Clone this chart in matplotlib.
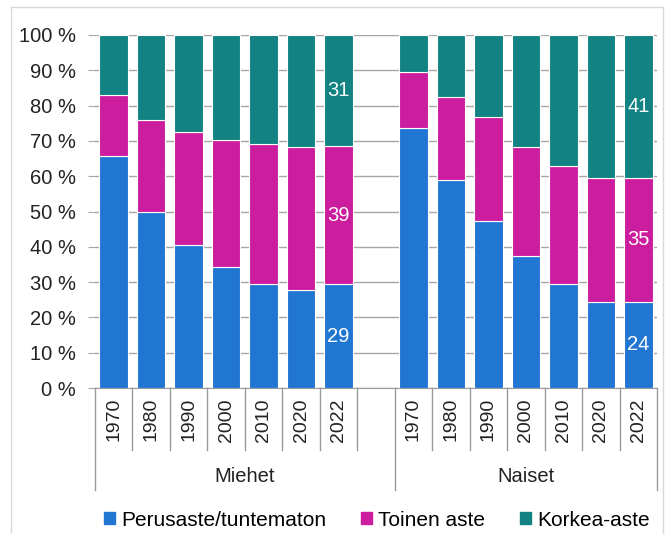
import numpy as np
import matplotlib.pyplot as plt
import matplotlib.transforms as mtransforms
from matplotlib.lines import Line2D

plt.rcParams.update({
    "font.family": ["Liberation Sans", "DejaVu Sans"],
    "font.size": 14,
})

years = ["1970", "1980", "1990", "2000", "2010", "2020", "2022"]
groups = ["Miehet", "Naiset"]
series = ["Perusaste/tuntematon", "Toinen aste", "Korkea-aste"]

# percent shares
miehet_perus = [65.8, 49.8, 40.4, 34.2, 29.4, 27.8, 29.4]
miehet_toinen = [17.1, 26.1, 32.1, 36.1, 39.7, 40.4, 39.2]
miehet_korkea = [17.1, 24.1, 27.5, 29.7, 30.9, 31.8, 31.4]
naiset_perus = [73.6, 59.0, 47.2, 37.3, 29.4, 24.5, 24.5]
naiset_toinen = [15.8, 23.5, 29.5, 31.1, 33.6, 34.9, 34.9]
naiset_korkea = [10.6, 17.5, 23.3, 31.6, 37.0, 40.6, 40.6]

# labels shown on the 2022 bars
labels_miehet_2022 = [29, 39, 31]
labels_naiset_2022 = [24, 35, 41]

colors = ["#2176d2", "#cc1d9f", "#138283"]
GRID = "#a6a6a6"
SEP = "#9a9a9a"

fig = plt.figure(figsize=(6.67, 5.34), dpi=100)
ax = fig.add_axes([95 / 667, 1 - 388 / 534, 562 / 667, 353 / 534])

pos_m = np.arange(7)
pos_n = np.arange(8, 15)
width = 0.76

for pos, parts in [(pos_m, [miehet_perus, miehet_toinen, miehet_korkea]),
                   (pos_n, [naiset_perus, naiset_toinen, naiset_korkea])]:
    parts = np.array(parts, dtype=float)
    parts = parts / parts.sum(axis=0) * 100.0
    bottom = np.zeros(len(pos))
    for i, vals in enumerate(parts):
        ax.bar(pos, vals, width, bottom=bottom, color=colors[i],
               edgecolor="white", linewidth=0.8, zorder=3)
        bottom += vals

# data labels on 2022 bars
for pos, parts, labs in [(pos_m[-1], [miehet_perus, miehet_toinen, miehet_korkea], labels_miehet_2022),
                         (pos_n[-1], [naiset_perus, naiset_toinen, naiset_korkea], labels_naiset_2022)]:
    vals = np.array([p[-1] for p in parts])
    vals = vals / vals.sum() * 100.0
    cum = np.cumsum(vals)
    mids = cum - vals / 2
    for m, lab in zip(mids, labs):
        ax.text(pos, m, str(lab), ha="center", va="center", color="white",
                fontsize=14.5, zorder=5)

ax.set_xlim(-0.5, 14.5)
ax.set_ylim(0, 100)
ax.set_yticks(np.arange(0, 101, 10))
ax.set_yticklabels([f"{v} %" for v in range(0, 101, 10)], color="#222222",
                   fontsize=14.5)
ax.tick_params(axis="y", length=5, color=GRID, pad=9)
ax.set_xticks([])
ax.yaxis.grid(True, color=GRID, linewidth=1, zorder=0)
ax.set_axisbelow(True)
for s in ["top", "right", "left"]:
    ax.spines[s].set_visible(False)
ax.spines["bottom"].set_color(SEP)

# category axis: year labels, separators and group labels
trans = mtransforms.blended_transform_factory(ax.transData, ax.transAxes)
y_short = -62 / 353
y_long = -102 / 353
for p in list(pos_m) + list(pos_n):
    ax.text(p, -10 / 353, years[p if p < 7 else p - 8], rotation=90,
            ha="center", va="top", transform=trans, color="#222222")
for b in np.arange(-0.5, 15, 1.0):
    y_end = y_long if b in (-0.5, 7.5, 14.5) else y_short
    ax.add_line(Line2D([b, b], [0, y_end], transform=trans, color=SEP,
                       lw=1, clip_on=False))
ax.text(3.5, -89 / 353, groups[0], ha="center", va="center",
        transform=trans, color="#222222", fontsize=14.5)
ax.text(11, -89 / 353, groups[1], ha="center", va="center",
        transform=trans, color="#222222", fontsize=14.5)

# legend
handles = [plt.Rectangle((0, 0), 1, 1, color=c) for c in colors]
fig.legend(handles, series, loc="center", bbox_to_anchor=(377 / 667, 1 - 520 / 534),
           ncol=3, frameon=False, handlelength=0.5, handleheight=0.5,
           handletextpad=0.3, columnspacing=1.7, fontsize=15)

# light frame around the picture
for xs, ys in [([11 / 667, 11 / 667], [0, 1 - 7 / 534]),
               ([11 / 667, 663 / 667], [1 - 7 / 534, 1 - 7 / 534]),
               ([663 / 667, 663 / 667], [0, 1 - 7 / 534])]:
    fig.add_artist(Line2D(xs, ys, transform=fig.transFigure, color="#d9d9d9", lw=1))

fig.savefig("out.png", dpi=100)
